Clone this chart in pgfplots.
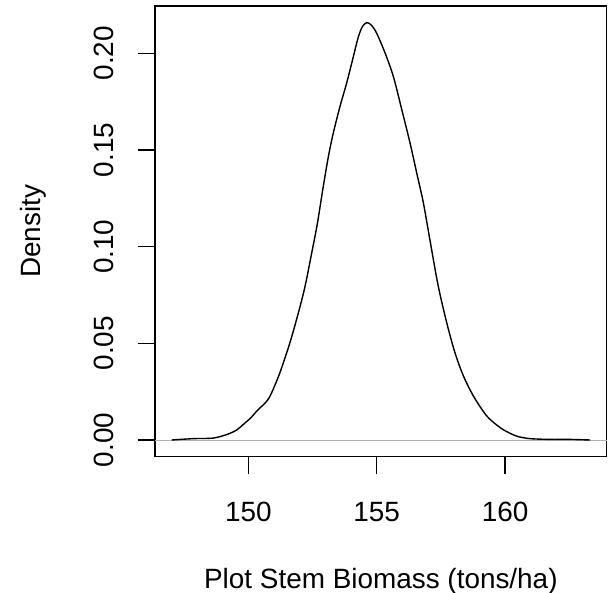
\documentclass[border=0pt]{standalone}
\usepackage{fontspec}
\setmainfont{Liberation Sans}
\usepackage{pgfplots}
\pgfplotsset{compat=1.18}
\begin{document}
\begin{tikzpicture}
\useasboundingbox (-155bp,-136.3bp) rectangle (454bp,456.7bp);
\begin{axis}[
  at={(0,0)}, anchor=south west,
  scale only axis, width=451.7bp, height=450.7bp,
  xmin=146.365, xmax=163.96, ymin=-0.00864, ymax=0.2245,
  xtick={150,155,160}, ytick={0,0.05,0.1,0.15,0.2},
  xtick pos=lower, ytick pos=left, tick align=outside, major tick length=17bp,
  axis line style={line width=1.1bp},
  tick style={black, line width=1.1bp},
  font=\fontsize{28}{34}\selectfont,
  /pgf/number format/assume math mode=true,
  scaled y ticks=false,
  yticklabel={\pgfmathprintnumber[fixed,fixed zerofill,precision=2]{\tick}},
  xticklabel style={anchor=center, text height=20bp, text depth=0bp, yshift=-37.7bp},
  yticklabel style={xshift=-34bp, anchor=center, text height=20bp, text depth=0bp, rotate=90},
  xlabel={Plot Stem Biomass (tons/ha)}, ylabel={Density},
  xlabel style={at={(rel axis cs:0.5,0)}, anchor=center, yshift=-124.3bp},
  ylabel style={at={(rel axis cs:0,0.5)}, anchor=center, yshift=122bp},
  clip=false,
]
\addplot[color=lightgray!80!gray, line width=0.8bp] coordinates {(146.365,0) (163.96,0)};
\addplot[black, line width=1.4bp, smooth, tension=0.5] coordinates {
(147.01,0) (147.86,0.0007) (148.64,0.001) (149.2,0.003) (149.55,0.0052)
(149.81,0.0081) (150.1,0.0115) (150.33,0.015) (150.72,0.0201) (150.91,0.0245)
(151.23,0.0348) (151.62,0.0503) (151.95,0.0658) (152.21,0.0795) (152.47,0.0968)
(152.69,0.112) (152.92,0.1312) (153.12,0.1467) (153.31,0.1588) (153.57,0.1725)
(153.83,0.1846) (154.09,0.1983) (154.29,0.2087) (154.45,0.2140) (154.62,0.2159)
(154.80,0.2145) (155.0,0.2104) (155.33,0.2001) (155.65,0.188) (155.98,0.1708)
(156.30,0.1536) (156.56,0.1381) (156.82,0.1226) (157.10,0.1015)
(157.40,0.0795) (157.73,0.0606) (158.05,0.0451) (158.38,0.0331) (158.77,0.0227)
(159.29,0.0124) (159.81,0.0064) (160.19,0.0035) (160.5,0.0018) (160.97,0.0007)
(161.75,0.0003) (162.53,0.0003) (163.31,0)
};
\end{axis}
\end{tikzpicture}
\end{document}
